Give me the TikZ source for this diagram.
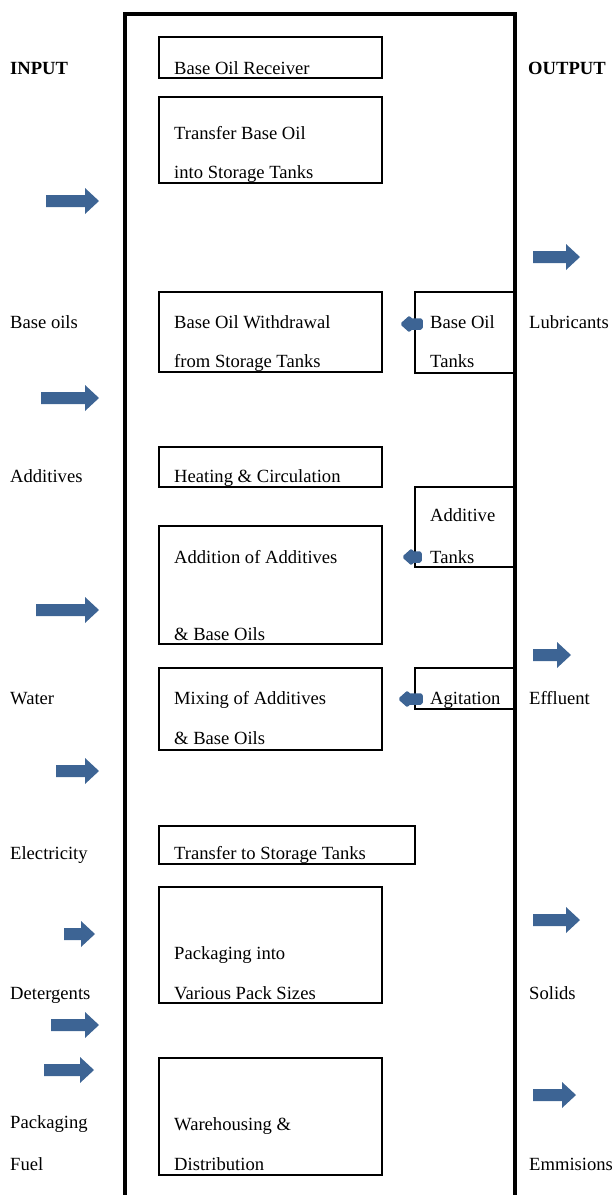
\documentclass[tikz,border=0pt]{standalone}
\usepackage{fontspec}
\setmainfont{Liberation Serif}
\definecolor{arrowblue}{RGB}{61,100,148}
\tikzset{
  frameline/.style={line width=3.6pt},
  stepbox/.style={draw, line width=2.6pt},
  lbl/.style={anchor=base west, inner sep=0pt, font=\fontsize{18.6}{22}\selectfont},
  head/.style={lbl, font=\fontsize{18.6}{22}\selectfont\bfseries},
  flowarrow/.style={fill=arrowblue},
  tankarrow/.style={fill=arrowblue, draw=arrowblue, line width=1.5pt, line join=round, rounded corners=1.5pt},
}
% block arrow pointing right: x start, x tip, y centre
\newcommand\rblock[3]{%
  \fill[flowarrow] (#1,#3-6) -- (#2-14,#3-6) -- (#2-14,#3-13) -- (#2,#3)
    -- (#2-14,#3+13) -- (#2-14,#3+6) -- (#1,#3+6) -- cycle;}
% small arrow pointing left from a tank box: x tip, x tail, y centre
\newcommand\lblock[3]{%
  \filldraw[tankarrow] (#2,#3-5) -- (#1+9,#3-5) -- (#1+9,#3-8) -- (#1,#3)
    -- (#1+9,#3+8) -- (#1+9,#3+5) -- (#2,#3+5) -- cycle;}
\begin{document}
\begin{tikzpicture}[x=1pt, y=-1pt]
\useasboundingbox (0,0) rectangle (614,1195);

% plant boundary
\draw[frameline] (125,1197) -- (125,14) -- (515,14) -- (515,1197);

% process steps
\draw[stepbox] (159,37) rectangle (382,78);
\draw[stepbox] (159,97) rectangle (382,183);
\draw[stepbox] (159,292) rectangle (382,372);
\draw[stepbox] (159,447) rectangle (382,487);
\draw[stepbox] (159,526) rectangle (382,644);
\draw[stepbox] (159,668) rectangle (382,750);
\draw[stepbox] (159,826) rectangle (415,864);
\draw[stepbox] (159,887) rectangle (382,1003);
\draw[stepbox] (159,1058) rectangle (382,1175);

% tanks and agitation attached to the boundary
\draw[stepbox] (515,292) -- (415,292) -- (415,373) -- (515,373);
\draw[stepbox] (515,487) -- (415,487) -- (415,567) -- (515,567);
\draw[stepbox] (515,668) -- (415,668) -- (415,709) -- (515,709);

% step texts
\node[lbl] (t1)  at (174,74)   {Base Oil Receiver};
\node[lbl] (t2a) at (174,139)  {Transfer Base Oil};
\node[lbl] (t2b) at (174,178)  {into Storage Tanks};
\node[lbl] (t3a) at (174,328)  {Base Oil Withdrawal};
\node[lbl] (t3b) at (174,367)  {from Storage Tanks};
\node[lbl] (t4)  at (174,482)  {Heating \& Circulation};
\node[lbl] (t5a) at (174,563)  {Addition of Additives};
\node[lbl] (t5b) at (174,640)  {\& Base Oils};
\node[lbl] (t6a) at (174,704)  {Mixing of Additives};
\node[lbl] (t6b) at (174,744)  {\& Base Oils};
\node[lbl] (t7)  at (174,859)  {Transfer to Storage Tanks};
\node[lbl] (t8a) at (174,959)  {Packaging into};
\node[lbl] (t8b) at (174,999)  {Various Pack Sizes};
\node[lbl] (t9a) at (174,1130) {Warehousing \&};
\node[lbl] (t9b) at (174,1170) {Distribution};

% side unit texts
\node[lbl] (s1a) at (430,328) {Base Oil};
\node[lbl] (s1b) at (430,367) {Tanks};
\node[lbl] (s2a) at (430,521) {Additive};
\node[lbl] (s2b) at (430,563) {Tanks};
\node[lbl] (s3)  at (430,704) {Agitation};

% inputs
\node[head] (inp) at (10,74) {INPUT};
\node[lbl] (i1) at (10,328)  {Base oils};
\node[lbl] (i2) at (10,482)  {Additives};
\node[lbl] (i3) at (10,704)  {Water};
\node[lbl] (i4) at (10,859)  {Electricity};
\node[lbl] (i5) at (10,999)  {Detergents};
\node[lbl] (i6) at (10,1128) {Packaging};
\node[lbl] (i7) at (10,1170) {Fuel};

% outputs
\node[head] (outp) at (528,74) {OUTPUT};
\node[lbl] (o1) at (529,328)  {Lubricants};
\node[lbl] (o2) at (529,704)  {Effluent};
\node[lbl] (o3) at (529,999)  {Solids};
\node[lbl] (o4) at (529,1170) {Emmisions};

% input arrows
\rblock{46}{99}{201}
\rblock{41}{99}{398}
\rblock{36}{99}{610}
\rblock{56}{99}{771}
\rblock{64}{95}{934}
\rblock{51}{99}{1025}
\rblock{44}{94}{1070}

% output arrows
\rblock{533}{580}{257}
\rblock{533}{571}{655}
\rblock{533}{580}{920}
\rblock{533}{576}{1095}

% feeds from tanks and agitation
\lblock{401}{422}{324}
\lblock{403}{421}{557}
\lblock{399}{422}{699}
\end{tikzpicture}
\end{document}
